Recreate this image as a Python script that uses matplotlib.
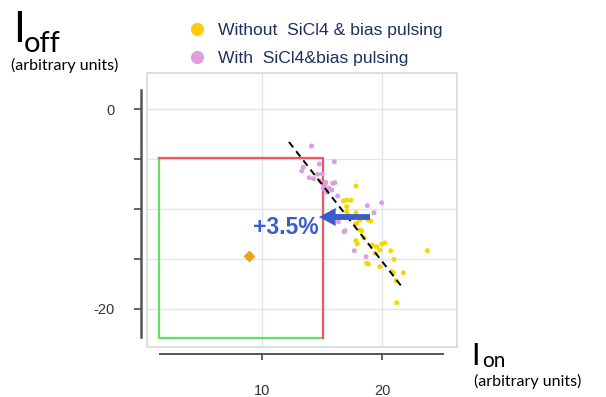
import matplotlib
matplotlib.use("Agg")
import matplotlib.pyplot as plt
from matplotlib.lines import Line2D
from matplotlib.patches import Rectangle

# ---------------- data ----------------
without_x = [17.83, 17.06, 17.42, 16.78, 17.06, 17.06, 17.83, 18.86, 18.17, 18.17,
             18.31, 17.89, 19.06, 17.83, 17.94, 19.19, 19.56, 19.98, 19.83, 20.73,
             23.78, 18.73, 18.86, 19.83, 21.00, 20.81, 21.78, 21.17, 21.23, 19.42,
             20.25, 20.94, 17.20, 18.50]
without_y = [-7.70, -9.10, -9.13, -9.20, -9.77, -10.27, -10.37, -11.10, -11.10, -12.10,
             -12.17, -11.43, -11.20, -13.17, -13.50, -13.60, -13.77, -13.50, -14.10, -14.17,
             -14.17, -15.43, -15.50, -15.77, -15.03, -16.27, -16.37, -17.17, -19.37, -14.43,
             -13.40, -16.37, -10.60, -12.90]

with_x = [14.14, 16.03, 13.44, 13.31, 14.78, 13.94, 14.64, 14.31, 15.31, 15.89,
          16.08, 15.58, 15.39, 16.31, 15.11, 15.25, 15.81, 18.78, 19.98, 19.33,
          16.36, 16.92, 16.83, 17.81, 17.69, 18.67, 15.02, 14.84]
with_y = [-3.70, -5.27, -5.83, -6.20, -5.50, -6.87, -6.53, -6.97, -7.33, -7.43,
          -7.37, -7.93, -8.33, -8.70, -7.93, -7.60, -8.10, -9.67, -9.37, -10.37,
          -11.27, -12.17, -12.27, -11.50, -14.17, -14.77, -6.50, -7.20]

ref_point = (8.9, -14.7)
trend_x = [12.25, 21.8]
trend_y = [-3.3, -18.0]
spec_x = [1.4, 15.1]
spec_y = [-22.9, -4.9]
arrow_from = (19.0, -10.8)
arrow_to = (14.75, -10.8)
shift_label = "+3.5%"

xticks = [10, 20]
xtick_labels = ["10", "20"]
yticks = [0, -5, -10, -15, -20]
ytick_labels = ["0", "", "", "", "-20"]

legend_labels = ["Without  SiCl4 & bias pulsing", "With  SiCl4&bias pulsing"]

# ---------------- figure ----------------
W, H = 606, 397
fig = plt.figure(figsize=(W / 100, H / 100), dpi=100)
fig.patch.set_facecolor("white")


def fx(px):
    return px / W


def fy(py):
    return 1 - py / H


ax = fig.add_axes([fx(147), fy(347), (457 - 147) / W, (347 - 73) / H])
ax.set_xlim(0.42, 26.25)
ax.set_ylim(-23.8, 3.6)

# light frame
for s in ["top", "right"]:
    ax.spines[s].set_visible(False)
ax.add_patch(Rectangle((0, 0), 1, 1, transform=ax.transAxes, fill=False,
                       edgecolor="#d8d8d8", lw=1.2, zorder=0.5, clip_on=False))

# grid
ax.set_xticks(xticks)
ax.set_yticks(yticks)
ax.grid(True, color="#dce6f0", lw=1.0, zorder=0)
ax.set_axisbelow(True)

# dark axis lines offset from frame
ax.spines["left"].set_position(("outward", 4))
ax.spines["left"].set_bounds(-22.8, 1.9)
ax.spines["left"].set_color("#555555")
ax.spines["left"].set_linewidth(1.8)
ax.spines["bottom"].set_position(("outward", 5))
ax.spines["bottom"].set_bounds(1.5, 25.1)
ax.spines["bottom"].set_color("#555555")
ax.spines["bottom"].set_linewidth(1.4)

ax.set_xticklabels(xtick_labels, fontsize=10.5, color="#333333", family="Liberation Sans")
ax.set_yticklabels(ytick_labels, fontsize=10.5, color="#333333", family="Liberation Sans")
ax.tick_params(axis="y", length=5, width=1.3, color="#555555", pad=14.5)
ax.tick_params(axis="x", length=4, width=1.3, color="#555555", pad=17.5)

# spec box
ax.plot([spec_x[0], spec_x[0], spec_x[1]], [spec_y[1], spec_y[0], spec_y[0]],
        color="#66dd66", lw=1.6, zorder=2)
ax.plot([spec_x[0], spec_x[1], spec_x[1]], [spec_y[1], spec_y[1], spec_y[0]],
        color="#ee5566", lw=1.6, zorder=2)

# scatter
ax.scatter(with_x, with_y, s=13, color="#d8a0dc", edgecolors="none", zorder=3)
ax.scatter(without_x, without_y, s=13, color="#f5d800", edgecolors="none", zorder=3)

# reference point
ax.plot([ref_point[0]], [ref_point[1]], marker="D", ms=5.5, color="#f0a020",
        linestyle="none", zorder=4)

# trend line
ax.plot(trend_x, trend_y, color="black", lw=1.4, linestyle=(0, (3.5, 2.5)), zorder=5)

# arrow
ax.annotate("", xy=arrow_to, xytext=arrow_from,
            arrowprops=dict(arrowstyle="simple,head_width=1.3,head_length=1.2,tail_width=0.42",
                            mutation_scale=10, color="#3a5ccc", lw=0, shrinkA=0, shrinkB=0),
            zorder=6)
ax.text(12.0, -11.8, shift_label, fontsize=16.5, fontweight="bold", color="#3a5ccc",
        family="Liberation Sans", ha="center", va="center", zorder=6)

# legend (in figure pixels)
leg_handles = [
    Line2D([], [], marker="o", linestyle="none", ms=9.5, color="#ffcc00", mec="none"),
    Line2D([], [], marker="o", linestyle="none", ms=9.5, color="#dda0dd", mec="none"),
]
fig.legend(leg_handles, legend_labels, loc="upper left",
           bbox_to_anchor=(fx(178), fy(14)), frameon=False,
           prop={"family": "Liberation Sans", "size": 12.6},
           labelcolor="#1f2f5f", handletextpad=0.6, labelspacing=0.75,
           borderpad=0, handlelength=1.2)

# axis titles
fig.text(fx(13), fy(42), "I", fontsize=31, family="Lato", va="baseline", ha="left")
fig.text(fx(24), fy(52), "off", fontsize=21, family="Lato", va="baseline", ha="left")
fig.text(fx(11), fy(70), "(arbitrary units)", fontsize=11.5, family="Lato",
         va="baseline", ha="left")

fig.text(fx(471), fy(365), "I", fontsize=22, family="Lato", va="baseline", ha="left")
fig.text(fx(482), fy(367), "on", fontsize=15, family="Lato", va="baseline", ha="left")
fig.text(fx(474), fy(386), "(arbitrary units)", fontsize=11.5, family="Lato",
         va="baseline", ha="left")

fig.savefig("out.png", dpi=100)
